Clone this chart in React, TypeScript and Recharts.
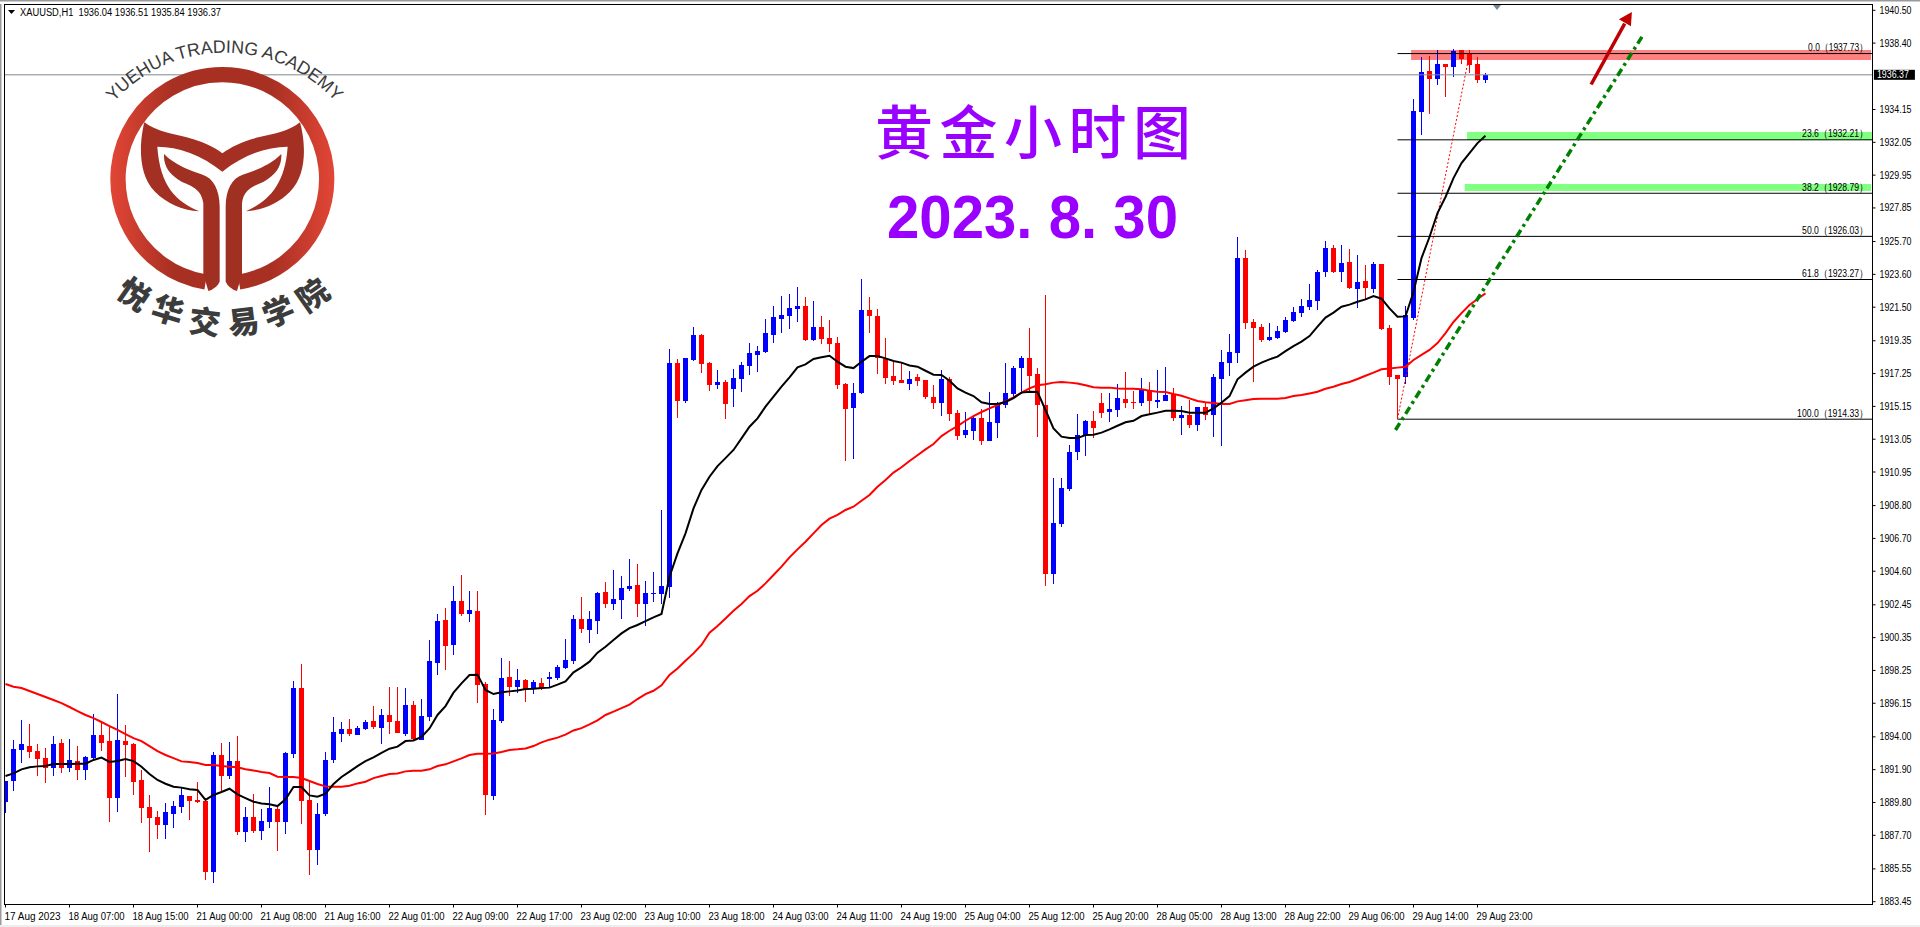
import React from "react";
import { ComposedChart, Bar, Line, XAxis, YAxis, ReferenceLine, ReferenceArea, ReferenceDot } from "recharts";

const opens = [
1889.85,1891.19,1893.18,1893.41,1893.09,1892.64,1892.03,1893.60,1892.03,1892.45,
1891.90,1892.67,1894.12,1893.73,1890.11,1893.73,1893.54,1891.24,1889.51,1888.87,
1888.36,1889.06,1889.51,1890.21,1889.96,1889.91,1885.37,1892.84,1891.49,1892.45,
1887.93,1888.87,1887.97,1888.57,1889.38,1888.57,1892.92,1897.12,1889.96,1886.78,
1889.06,1892.54,1894.20,1894.50,1894.14,1894.50,1895.01,1894.59,1895.40,1895.01,
1894.18,1896.04,1893.82,1895.29,1898.75,1901.48,1899.90,1902.69,1901.88,1902.05,
1897.38,1890.23,1895.01,1897.83,1897.21,1897.64,1897.06,1897.44,1897.72,1897.76,
1898.40,1898.85,1901.54,1900.84,1901.41,1903.27,1902.50,1902.76,1903.44,1903.72,
1902.50,1903.16,1903.14,1903.59,1917.92,1915.47,1918.09,1919.72,1917.92,1916.52,
1916.71,1916.26,1916.90,1917.73,1918.44,1918.63,1919.72,1920.74,1920.93,1921.38,
1921.57,1919.40,1920.23,1919.52,1919.20,1916.58,1915.04,1916.00,1921.32,1920.93,
1918.20,1917.09,1916.84,1916.58,1917.03,1916.84,1915.75,1915.36,1916.90,1914.72,
1913.32,1913.57,1914.40,1912.93,1914.08,1915.24,1915.94,1917.60,1918.24,1917.22,
1915.24,1904.44,1907.62,1909.86,1912.23,1913.32,1914.21,1915.36,1914.79,1914.92,
1915.62,1915.43,1915.36,1916.20,1915.43,1915.49,1915.94,1914.40,1914.60,1913.96,
1915.11,1914.60,1916.90,1917.92,1918.56,1924.64,1920.55,1920.23,1919.40,1919.52,
1919.91,1920.61,1921.12,1921.51,1921.89,1923.75,1925.28,1923.75,1924.39,1922.66,
1923.17,1922.66,1924.26,1920.16,1917.16,1917.00,1920.80,1934.01,1936.61,1936.10,
1937.06,1936.87,1937.96,1937.70,1937.06,1936.04,
];
const closes = [
1891.17,1893.22,1893.54,1893.05,1892.60,1892.03,1893.54,1892.03,1892.52,1891.90,
1892.71,1894.12,1893.63,1890.11,1893.80,1893.48,1891.13,1889.47,1888.83,1888.36,
1889.19,1889.57,1890.28,1889.89,1889.85,1885.37,1892.84,1891.51,1892.45,1887.93,
1888.87,1887.97,1888.61,1889.44,1888.57,1892.96,1897.12,1889.91,1886.78,1889.06,
1892.52,1894.31,1894.50,1894.18,1894.56,1894.95,1894.65,1895.40,1894.97,1894.27,
1896.04,1893.86,1895.33,1898.85,1901.41,1899.83,1902.69,1901.88,1902.12,1897.34,
1890.30,1895.08,1897.76,1897.21,1897.64,1897.06,1897.51,1897.12,1897.83,1898.47,
1898.92,1901.54,1900.90,1901.54,1903.20,1902.50,1902.82,1903.52,1903.65,1902.50,
1903.20,1903.20,1903.65,1917.92,1915.49,1918.24,1919.72,1917.86,1916.52,1916.71,
1915.30,1916.96,1917.80,1918.56,1918.69,1919.84,1920.87,1921.00,1921.44,1921.57,
1919.40,1920.23,1919.46,1919.14,1916.52,1914.98,1916.00,1921.32,1920.93,1918.24,
1916.96,1916.77,1916.64,1916.90,1916.77,1915.75,1915.36,1916.90,1914.66,1913.25,
1913.64,1914.40,1912.93,1914.15,1915.30,1916.00,1917.60,1918.24,1917.09,1915.24,
1904.44,1907.68,1909.92,1912.23,1913.32,1914.21,1913.76,1914.72,1914.98,1915.68,
1915.36,1915.36,1916.20,1915.49,1915.56,1915.88,1914.40,1914.60,1913.96,1915.11,
1914.60,1917.03,1917.99,1918.63,1924.64,1920.48,1920.16,1919.40,1919.59,1919.97,
1920.68,1921.19,1921.57,1921.96,1923.75,1925.28,1923.75,1924.32,1922.72,1923.11,
1922.72,1924.26,1920.10,1917.03,1916.90,1921.00,1934.06,1936.55,1936.10,1937.06,
1936.87,1937.89,1937.38,1936.99,1936.04,1936.37,
];
const highs = [
1891.17,1893.80,1895.08,1894.82,1893.54,1893.28,1894.05,1893.86,1893.86,1893.41,
1892.77,1895.46,1894.86,1894.65,1896.74,1894.76,1893.60,1891.88,1890.28,1889.25,
1889.76,1889.89,1890.77,1890.21,1891.11,1889.96,1893.03,1893.60,1893.67,1894.05,
1889.51,1890.34,1889.38,1890.79,1889.64,1893.03,1897.57,1898.66,1891.11,1889.76,
1893.03,1895.27,1894.95,1895.14,1894.69,1895.08,1895.97,1895.78,1897.19,1897.19,
1897.12,1896.29,1896.42,1900.20,1901.86,1902.24,1903.65,1904.36,1903.33,1903.33,
1897.51,1895.78,1899.04,1898.85,1898.34,1897.70,1897.64,1897.76,1898.15,1898.60,
1900.26,1901.80,1902.95,1902.05,1903.27,1903.91,1904.68,1904.29,1905.38,1905.06,
1903.97,1904.55,1908.52,1918.82,1918.18,1918.24,1920.23,1919.78,1917.99,1917.48,
1916.84,1917.54,1917.99,1919.20,1919.01,1920.74,1921.57,1922.21,1922.34,1922.79,
1922.15,1921.89,1920.93,1920.68,1919.59,1916.64,1916.64,1923.30,1922.15,1921.38,
1919.52,1917.99,1917.99,1917.41,1917.22,1916.84,1916.52,1917.48,1917.03,1914.92,
1914.79,1914.60,1914.98,1916.07,1915.43,1917.92,1917.73,1918.37,1920.16,1917.60,
1922.28,1910.56,1910.56,1912.68,1914.66,1914.28,1914.85,1916.00,1916.00,1916.58,
1917.35,1916.13,1916.96,1916.71,1917.48,1917.67,1916.32,1915.17,1915.56,1915.11,
1915.36,1917.22,1918.76,1919.78,1925.99,1925.16,1920.74,1920.42,1920.48,1920.29,
1920.87,1921.51,1922.02,1922.98,1923.88,1925.73,1925.48,1925.48,1925.22,1924.84,
1924.20,1924.39,1924.26,1920.36,1917.16,1921.57,1934.82,1937.51,1937.57,1937.98,
1937.06,1938.02,1937.96,1937.96,1937.51,1936.51,
];
const lows = [
1889.10,1890.55,1892.35,1892.64,1891.51,1891.07,1891.49,1891.71,1891.77,1891.26,
1891.26,1892.60,1893.11,1888.57,1889.21,1891.45,1890.28,1888.51,1886.65,1887.46,
1887.46,1888.19,1889.15,1888.68,1889.76,1884.86,1884.67,1890.49,1891.32,1887.72,
1887.29,1887.87,1887.42,1888.19,1886.71,1887.80,1892.67,1888.44,1885.18,1885.82,
1888.95,1892.35,1893.69,1894.07,1894.14,1894.44,1894.52,1893.56,1894.20,1894.24,
1894.07,1893.82,1893.82,1895.03,1897.98,1898.30,1899.26,1901.75,1901.37,1896.19,
1889.02,1889.98,1894.91,1896.63,1896.83,1896.23,1896.74,1897.00,1897.12,1897.64,
1898.34,1898.66,1900.64,1900.00,1900.58,1902.24,1902.12,1901.54,1903.35,1901.67,
1901.09,1902.63,1902.50,1902.88,1914.40,1915.36,1918.05,1917.28,1916.13,1916.26,
1914.34,1915.11,1916.07,1917.16,1917.35,1918.56,1919.20,1919.84,1920.10,1920.55,
1919.33,1919.33,1919.14,1918.63,1916.26,1911.65,1911.78,1915.94,1919.84,1917.22,
1916.58,1916.52,1916.64,1916.20,1916.45,1915.62,1914.98,1914.53,1914.21,1913.00,
1913.12,1913.00,1912.68,1912.93,1913.12,1915.04,1915.75,1915.94,1915.98,1913.19,
1903.67,1903.80,1907.43,1909.73,1911.72,1911.97,1913.12,1914.40,1914.15,1914.47,
1915.04,1914.98,1915.17,1914.66,1915.04,1915.49,1914.21,1913.32,1913.76,1913.57,
1914.28,1913.19,1912.61,1917.09,1917.92,1920.10,1916.71,1919.27,1919.33,1919.46,
1919.84,1920.55,1920.87,1921.32,1921.32,1923.43,1923.68,1923.11,1922.66,1921.44,
1922.02,1922.40,1920.04,1916.52,1914.33,1916.58,1920.70,1932.52,1933.86,1935.72,
1934.95,1936.23,1937.06,1936.48,1935.84,1935.84,
];
const maFast = [
1891.49,1891.66,1891.92,1892.05,1892.11,1892.13,1892.26,1892.26,1892.26,1892.28,
1892.28,1892.52,1892.67,1892.39,1892.45,1892.58,1892.45,1892.09,1891.62,1891.24,
1891.00,1890.81,1890.75,1890.64,1890.60,1889.96,1890.28,1890.47,1890.68,1890.32,
1890.08,1889.85,1889.74,1889.68,1889.57,1890.00,1890.79,1890.79,1890.25,1890.17,
1890.36,1890.98,1891.43,1891.77,1892.13,1892.45,1892.69,1892.98,1893.24,1893.37,
1893.73,1893.77,1893.99,1894.54,1895.40,1895.97,1896.83,1897.42,1897.96,1897.98,
1897.00,1896.74,1896.85,1896.91,1896.97,1897.06,1897.08,1897.12,1897.15,1897.34,
1897.55,1898.13,1898.45,1898.81,1899.39,1899.77,1900.20,1900.62,1900.96,1901.16,
1901.41,1901.65,1901.86,1904.25,1905.74,1907.02,1908.62,1909.80,1910.65,1911.33,
1911.84,1912.36,1913.10,1913.85,1914.38,1915.13,1915.77,1916.41,1917.01,1917.65,
1917.84,1918.18,1918.29,1918.39,1918.01,1917.69,1917.60,1918.01,1918.37,1918.37,
1918.22,1918.05,1917.95,1917.77,1917.69,1917.43,1917.18,1917.16,1916.79,1916.30,
1916.03,1915.81,1915.41,1915.30,1915.30,1915.43,1915.68,1916.03,1916.09,1916.07,
1914.92,1913.74,1913.21,1913.12,1913.12,1913.32,1913.34,1913.47,1913.68,1913.91,
1914.13,1914.23,1914.53,1914.64,1914.75,1914.87,1914.87,1914.85,1914.75,1914.75,
1914.75,1915.02,1915.39,1915.81,1916.88,1917.31,1917.69,1917.95,1918.16,1918.33,
1918.69,1919.01,1919.29,1919.65,1920.25,1920.83,1921.15,1921.53,1921.66,1921.85,
1922.00,1922.21,1922.04,1921.42,1920.89,1920.91,1922.47,1924.64,1925.99,1927.52,
1928.55,1929.76,1930.72,1931.36,1932.00,1932.47,
];
const maSlow = [
1897.38,1897.21,1897.12,1896.93,1896.74,1896.55,1896.36,1896.16,1895.91,1895.65,
1895.40,1895.20,1894.95,1894.69,1894.44,1894.18,1893.92,1893.73,1893.41,1893.09,
1892.84,1892.64,1892.43,1892.39,1892.32,1892.20,1892.20,1892.13,1892.09,1892.05,
1891.92,1891.85,1891.75,1891.68,1891.45,1891.43,1891.43,1891.36,1891.17,1890.98,
1890.83,1890.81,1890.81,1890.87,1891.02,1891.13,1891.36,1891.49,1891.62,1891.66,
1891.79,1891.83,1891.83,1891.92,1892.13,1892.24,1892.43,1892.62,1892.84,1892.92,
1892.92,1892.94,1893.03,1893.16,1893.20,1893.26,1893.41,1893.65,1893.82,1893.95,
1894.14,1894.41,1894.56,1894.80,1895.06,1895.40,1895.61,1895.84,1896.06,1896.42,
1896.74,1896.95,1897.30,1897.96,1898.38,1898.87,1899.34,1899.88,1900.67,1901.09,
1901.58,1902.07,1902.50,1903.01,1903.35,1903.82,1904.36,1904.89,1905.49,1906.00,
1906.49,1907.02,1907.56,1907.96,1908.20,1908.52,1908.73,1909.11,1909.48,1910.01,
1910.44,1910.91,1911.25,1911.65,1912.02,1912.40,1912.74,1913.25,1913.59,1913.89,
1914.23,1914.53,1914.79,1915.02,1915.24,1915.47,1915.73,1916.03,1916.30,1916.50,
1916.56,1916.67,1916.71,1916.67,1916.62,1916.50,1916.37,1916.35,1916.35,1916.30,
1916.28,1916.28,1916.24,1916.15,1916.09,1916.07,1915.94,1915.83,1915.66,1915.49,
1915.41,1915.36,1915.30,1915.30,1915.47,1915.54,1915.62,1915.64,1915.64,1915.64,
1915.68,1915.81,1915.88,1915.98,1916.09,1916.28,1916.41,1916.58,1916.71,1916.90,
1917.11,1917.31,1917.52,1917.58,1917.63,1917.69,1918.12,1918.44,1918.76,1919.20,
1919.84,1920.55,1921.12,1921.64,1922.02,1922.38,
];
const timeLabels = [
"17 Aug 2023","18 Aug 07:00","18 Aug 15:00","21 Aug 00:00","21 Aug 08:00","21 Aug 16:00","22 Aug 01:00","22 Aug 09:00",
"22 Aug 17:00","23 Aug 02:00","23 Aug 10:00","23 Aug 18:00","24 Aug 03:00","24 Aug 11:00","24 Aug 19:00","25 Aug 04:00",
"25 Aug 12:00","25 Aug 20:00","28 Aug 05:00","28 Aug 13:00","28 Aug 22:00","29 Aug 06:00","29 Aug 14:00","29 Aug 23:00",
];
const priceTicks = [
1940.50,1938.40,1934.15,1932.05,1929.95,1927.85,1925.70,1923.60,1921.50,1919.35,1917.25,1915.15,1913.05,1910.95,
1908.80,1906.70,1904.60,1902.45,1900.35,1898.25,1896.15,1894.00,1891.90,1889.80,1887.70,1885.55,1883.45,
];
const fibLevels = [
  { label: "0.0（1937.73）", price: 1937.73, len: 60 },
  { label: "23.6（1932.21）", price: 1932.21, len: 66 },
  { label: "38.2（1928.79）", price: 1928.79, len: 66 },
  { label: "50.0（1926.03）", price: 1926.03, len: 66 },
  { label: "61.8（1923.27）", price: 1923.27, len: 66 },
  { label: "100.0（1914.33）", price: 1914.33, len: 71 },
];
const lastPrice = 1936.37;
const headerText = "XAUUSD,H1  1936.04 1936.51 1935.84 1936.37";
const academyText = "YUEHUA TRADING ACADEMY";
const academyChars = ["悦", "华", "交", "易", "学", "院"];
const titleText = "黄金小时图";
const dateText = "2023. 8. 30";

const data = opens.map((open, idx) => ({
  idx, open, close: closes[idx], high: highs[idx], low: lows[idx], fast: maFast[idx], slow: maSlow[idx],
}));
const xTicks = timeLabels.map((_, i) => i * 8);
const FONT = "'Liberation Sans', Arial, sans-serif";
const BULL = "#0000ff";
const BEAR = "#ff0000";

function Candle(props: any) {
  const { x, y, width, height, payload } = props;
  const c = x + width / 2;
  const { open, close, high, low } = payload;
  const perUnit = height / (high - low || 1);
  const top = y + (high - Math.max(open, close)) * perUnit;
  const bot = y + (high - Math.min(open, close)) * perUnit;
  const col = close >= open ? BULL : BEAR;
  return (
    <g shapeRendering="crispEdges">
      <rect x={c - 0.5} y={y} width={1} height={Math.max(height, 1)} fill={col} />
      <rect x={c - 2.5} y={top} width={5} height={Math.max(bot - top, 1)} fill={col} />
    </g>
  );
}

function PriceTick(props: any) {
  const { x, y, payload } = props;
  return (
    <text x={x + 2} y={y + 3.5} fontFamily={FONT} fontSize={10} fill="#000" textLength={32} lengthAdjust="spacingAndGlyphs">
      {payload.value.toFixed(2)}
    </text>
  );
}

function TimeTick(props: any) {
  const { x, y, payload } = props;
  return (
    <text x={x - 1} y={y + 10} fontFamily={FONT} fontSize={10} fill="#000" textLength={56} lengthAdjust="spacingAndGlyphs">
      {timeLabels[payload.value / 8]}
    </text>
  );
}

function Logo() {
  const stem = "M492 462 C525 495 570 512 608 524 C640 534 659 570 659 620 L659 845 Q650 865 625 873 L610 822 L610 610 C605 570 580 560 545 545 C510 525 490 500 492 462 Z";
  const wing = "M433 367 C470 395 520 402 560 412 C610 425 640 440 667 460 C695 440 725 425 775 412 C820 402 865 395 900 367 C915 420 925 520 870 575 C835 610 790 630 738 634 C800 605 855 560 863 440 C800 440 730 465 667 515 C605 465 535 440 472 440 C480 560 530 605 598 634 C545 630 500 610 465 575 C410 520 420 420 433 367 Z";
  const placed = [
    [405, 878, 35], [505, 925, 17], [615, 960, 7], [730, 960, -7], [833, 930, -22], [935, 880, -35],
  ];
  return (
    <g transform="scale(0.33333)">
      <defs>
        <linearGradient id="ringGrad" gradientUnits="userSpaceOnUse" x1="330" y1="0" x2="1003" y2="0">
          <stop offset="0" stopColor="#e24636" />
          <stop offset="0.28" stopColor="#a83023" />
          <stop offset="0.72" stopColor="#a83023" />
          <stop offset="1" stopColor="#e24636" />
        </linearGradient>
        <path id="academyArc" d="M330 318 A450 450 0 0 1 1018 318" />
      </defs>
      <path d="M617 846 A313 313 0 1 1 717 846" fill="none" stroke="url(#ringGrad)" strokeWidth={46} />
      <path d={wing} fill="#a33022" />
      <path d={stem} fill="#a03022" />
      <path d={stem} fill="#a03022" transform="translate(1336 0) scale(-1 1)" />
      <text fontFamily={FONT} fontSize={54} fill="#3a3a3a">
        <textPath href="#academyArc" startOffset={16} textLength={750} lengthAdjust="spacingAndGlyphs">{academyText}</textPath>
      </text>
      {academyChars.map((ch, i) => (
        <text key={ch} x={0} y={0} textAnchor="middle" dominantBaseline="central" fontFamily="'Noto Sans CJK SC'" fontWeight={900} fontSize={94} fill="#3c3c3c"
          transform={`translate(${placed[i][0]} ${placed[i][1]}) rotate(${placed[i][2]})`}>{ch}</text>
      ))}
    </g>
  );
}

export default function App() {
  return (
    <div style={{ position: "absolute", left: 0, top: 0, width: 1920, height: 927, background: "#fff", overflow: "hidden" }}>
      <ComposedChart width={1920} height={927} data={data} margin={{ top: 4.5, left: 4.5, right: 0, bottom: 0 }} barSize={5}>
        <XAxis dataKey="idx" type="number" scale="linear" domain={[-0.125, 233.375]} ticks={xTicks} interval={0} height={22.5}
          axisLine={{ stroke: "#000" }} tickLine={{ stroke: "#000" }} tickSize={3} tick={<TimeTick />} allowDataOverflow />
        <YAxis orientation="right" type="number" domain={[1883.27, 1940.87]} ticks={priceTicks} interval={0} width={47.5}
          axisLine={{ stroke: "#000" }} tickLine={{ stroke: "#000" }} tickSize={3} tick={<PriceTick />} allowDataOverflow />

        <ReferenceArea x1={175.7} x2={233.2} y1={1937.32} y2={1937.96} fill="#ff8080" fillOpacity={1} stroke="none" />
        <ReferenceArea x1={182.7} x2={233.3} y1={1932.20} y2={1932.71} fill="#80ff80" fillOpacity={1} stroke="none" />
        <ReferenceArea x1={182.4} x2={233.2} y1={1928.93} y2={1929.38} fill="#80ff80" fillOpacity={1} stroke="none" />

        <ReferenceLine y={lastPrice} stroke="#808a90" strokeWidth={1} />
        {fibLevels.map((f) => (
          <ReferenceLine key={f.label} stroke="#000" strokeWidth={1} segment={[{ x: 174, y: f.price }, { x: 233.375, y: f.price }]} />
        ))}
        {fibLevels.map((f) => (
          <ReferenceDot key={"t" + f.label} x={233.2} y={f.price} r={0}
            shape={(p: any) => (
              <text x={p.cx - f.len - 3} y={p.cy - 2.5} fontFamily={FONT} fontSize={10.5} fill="#000" textLength={f.len} lengthAdjust="spacingAndGlyphs">{f.label}</text>
            )} />
        ))}
        <ReferenceLine stroke="#ff0000" strokeWidth={1} strokeDasharray="2 2" segment={[{ x: 174, y: 1914.33 }, { x: 183, y: 1937.73 }]} />
        <Bar dataKey={(d: any) => [d.low, d.high]} shape={<Candle />} isAnimationActive={false} />
        <Line dataKey="slow" stroke="#ff0000" strokeWidth={2} dot={false} activeDot={false} isAnimationActive={false} />
        <Line dataKey="fast" stroke="#000000" strokeWidth={2} dot={false} activeDot={false} isAnimationActive={false} />

        <ReferenceLine stroke="#008000" strokeWidth={3.5} strokeDasharray="8 4 3 4" segment={[{ x: 173.75, y: 1913.64 }, { x: 204.7, y: 1938.92 }]} />
        <ReferenceLine stroke="#c00000" strokeWidth={3.5} segment={[{ x: 198.2, y: 1935.75 }, { x: 202.4, y: 1939.65 }]} />
        <ReferenceDot x={203.3} y={1940.39} r={0}
          shape={(p: any) => <polygon points={`${p.cx},${p.cy} ${p.cx - 13},${p.cy + 7.3} ${p.cx - 1},${p.cy + 14.3}`} fill="#c00000" />} />
        <ReferenceDot x={233.3} y={lastPrice} r={0} ifOverflow="visible"
          shape={(p: any) => (
            <g>
              <rect x={p.cx + 2} y={p.cy - 5} width={41} height={10} fill="#000" />
              <text x={p.cx + 5} y={p.cy + 3.5} fontFamily={FONT} fontSize={10} fill="#fff" textLength={32} lengthAdjust="spacingAndGlyphs">{lastPrice.toFixed(2)}</text>
            </g>
          )} />
      </ComposedChart>
      <svg width={1920} height={927} style={{ position: "absolute", left: 0, top: 0, pointerEvents: "none" }}>
        <rect x={0} y={0} width={4} height={927} fill="#fff" />
        <rect x={0} y={0} width={1.5} height={927} fill="#9a9a9a" />
        <rect x={0} y={0} width={1920} height={4} fill="#fff" />
        <rect x={0} y={0} width={1920} height={1.5} fill="#9a9a9a" />
        <rect x={0} y={925} width={1920} height={2} fill="#eeeeee" />
        <rect x={4.5} y={4.5} width={1868} height={900} fill="none" stroke="#000" strokeWidth={1} />
        <polygon points="8,10 15,10 11.5,14" fill="#000" />
        <polygon points="1493,5 1501,5 1497,10" fill="#78869a" />
        <text x={20} y={16} fontFamily={FONT} fontSize={10} fill="#000" textLength={201} lengthAdjust="spacingAndGlyphs" xmlSpace="preserve">{headerText}</text>
        <Logo />
        <text x={875} y={154} fontFamily="'Noto Sans CJK SC'" fontWeight={500} fontSize={58} letterSpacing={6.5} fill="#9900ff">{titleText}</text>
        <text x={887} y={238} fontFamily={FONT} fontWeight={700} fontSize={62} fill="#9900ff" textLength={291} lengthAdjust="spacingAndGlyphs" xmlSpace="preserve">{dateText}</text>
      </svg>
    </div>
  );
}
